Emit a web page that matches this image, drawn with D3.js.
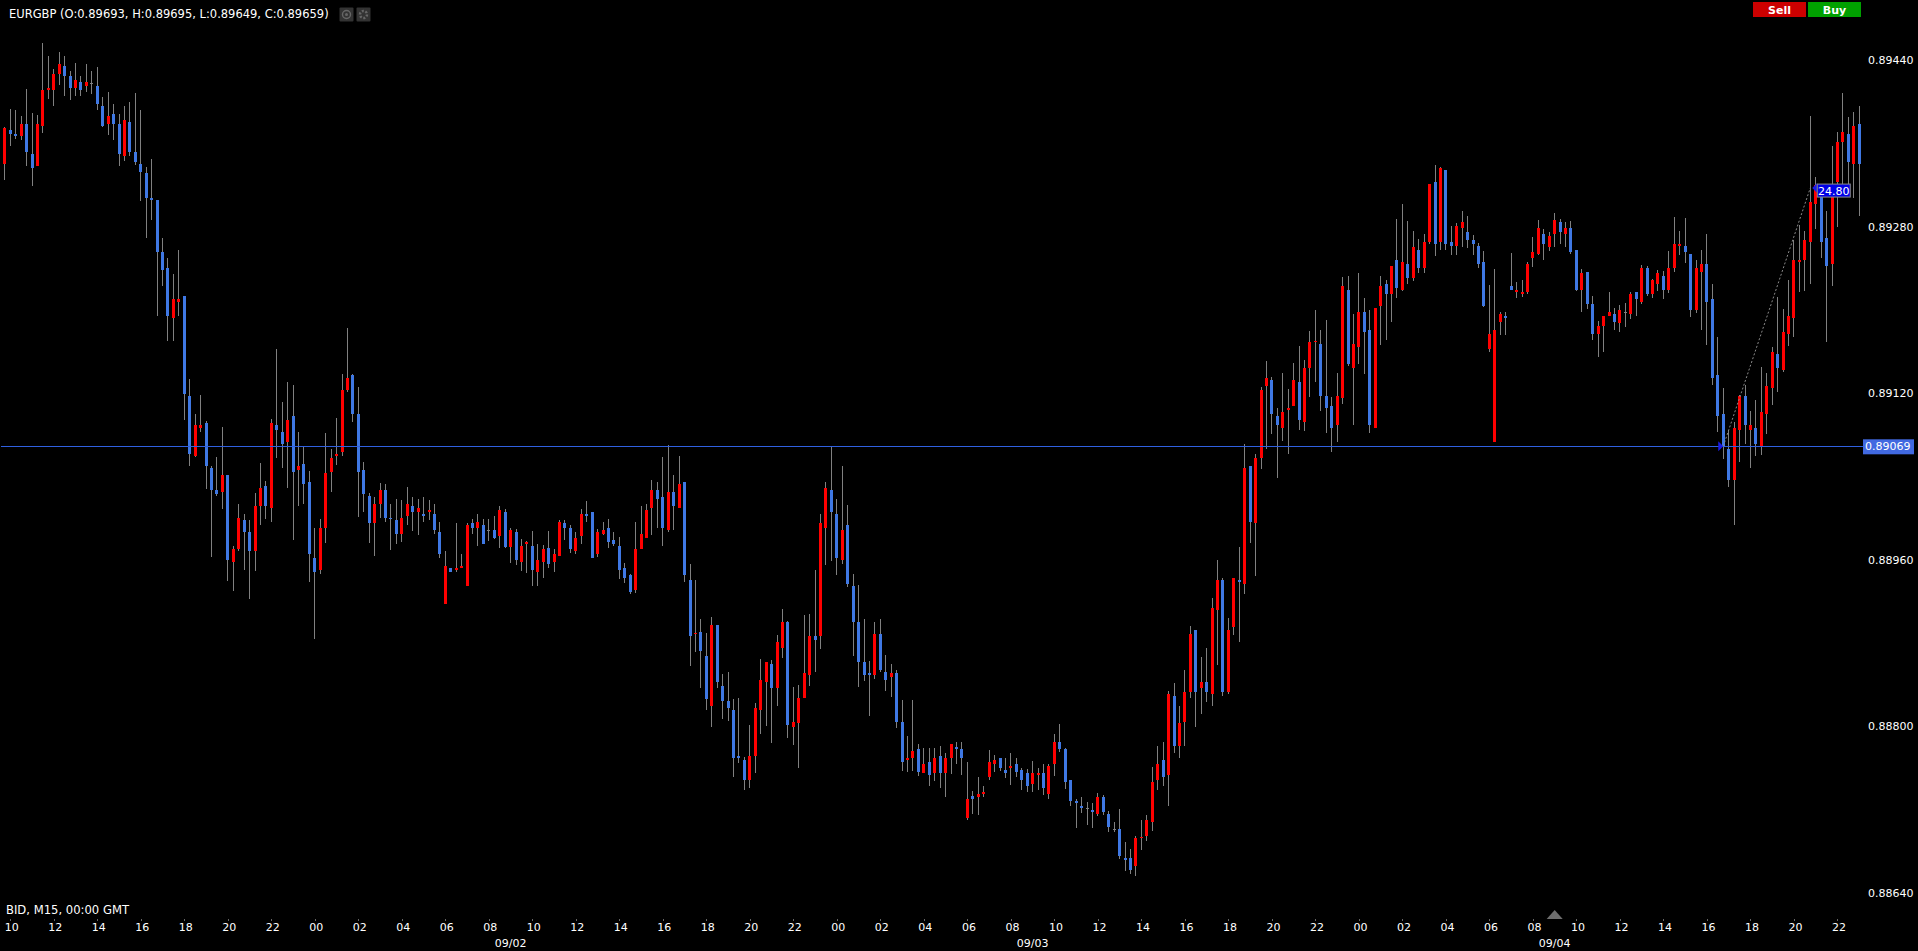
<!DOCTYPE html>
<html>
<head>
<meta charset="utf-8">
<title>EURGBP M15</title>
<script src="https://cdn.jsdelivr.net/npm/d3@7"></script>
<style>
  html, body { margin: 0; background: #000; overflow: hidden; }
  svg { display: block; }
  text { font-family: "DejaVu Sans", sans-serif; font-size: 11px; fill: #fff; }
</style>
</head>
<body>
<svg id="chart" width="1918" height="951"></svg>
<script>
// all prices are in points above 0.88000, so 1376 reads 0.89376
const priceBase = 88000;

const open = [
  1340,1373,1369,1367,1379,1350,1338,1377,1411,1411,
  1427,1434,1425,1413,1419,1415,1418,1415,1396,1379,
  1388,1379,1348,1380,1352,1340,1331,1307,1306,1256,
  1240,1192,1208,1213,1117,1060,1087,1091,1048,1027,
  1025,1041,958,970,998,987,968,1012,1031,1010,
  1089,1083,1073,1098,1046,1052,1035,962,950,991,
  1044,1060,1064,1123,1137,1100,1046,1021,995,1014,
  1027,1000,998,985,1002,1012,1006,1004,1006,1004,
  987,918,952,950,952,935,995,991,993,989,
  989,983,1006,972,987,958,975,973,948,958,
  971,958,964,995,991,968,983,1004,1006,966,
  985,991,979,973,952,945,931,970,981,1010,
  1027,1020,989,1025,1010,1035,941,889,891,868,
  820,897,839,824,816,772,768,749,772,816,
  843,860,837,875,900,799,803,827,849,887,
  887,991,1027,1004,960,993,935,900,862,851,
  849,889,852,847,851,804,768,770,778,755,
  766,755,772,755,770,780,778,712,733,732,
  735,751,764,770,758,760,764,758,755,745,
  753,755,735,764,785,778,749,728,724,722,
  720,716,732,716,701,701,674,674,666,693,
  695,708,749,768,753,829,781,804,833,893,
  837,843,831,912,941,833,895,941,937,1050,
  995,1058,1127,1133,1098,1087,1104,1108,1131,1092,
  1144,1169,1167,1117,1108,1089,1115,1219,1144,1164,
  1198,1181,1087,1204,1225,1215,1248,1219,1244,1231,
  1258,1240,1265,1323,1265,1334,1265,1261,1279,1275,
  1267,1261,1246,1162,1073,1188,1194,1223,1217,1215,
  1217,1250,1254,1273,1260,1273,1284,1273,1279,1258,
  1219,1236,1206,1177,1185,1194,1196,1187,1198,1196,
  1217,1208,1240,1215,1225,1233,1219,1240,1261,1261,
  1254,1200,1236,1244,1210,1137,1100,1066,1037,1085,
  1117,1085,1087,1069,1100,1125,1158,1142,1177,1192,
  1246,1248,1265,1302,1310,1269,1244,1323,1361,1369,
  1340,1379
];

const close = [
  1375,1369,1367,1379,1352,1336,1379,1411,1413,1427,
  1436,1425,1413,1421,1411,1419,1418,1398,1377,1386,
  1379,1350,1382,1352,1342,1332,1307,1306,1256,1238,
  1194,1210,1210,1119,1062,1089,1089,1050,1027,1023,
  1041,960,970,1000,987,968,1012,1029,1012,1091,
  1085,1071,1094,1044,1050,1033,966,948,991,1043,
  1058,1062,1123,1135,1100,1044,1023,995,1014,1027,
  1000,999,985,1000,1014,1006,1010,1002,1008,989,
  966,954,948,952,954,993,991,996,975,989,
  981,1008,972,989,960,973,977,950,960,970,
  956,966,996,991,970,981,1004,1002,962,987,
  989,977,975,950,943,929,970,985,1008,1027,
  1018,991,1025,1012,1033,945,887,890,872,826,
  897,843,824,818,770,770,749,772,818,845,
  862,837,881,900,801,804,827,851,887,883,
  995,1029,1006,962,989,937,900,862,849,849,
  889,854,845,851,804,766,770,776,756,764,
  753,770,755,770,783,778,770,730,730,735,
  737,766,768,760,755,762,756,749,743,755,
  755,741,762,785,778,747,728,726,722,722,
  718,732,718,703,701,676,672,662,693,694,
  710,747,764,751,831,781,803,833,889,833,
  843,833,914,941,833,893,943,939,1048,996,
  1058,1123,1135,1100,1089,1102,1106,1133,1094,1144,
  1169,1170,1117,1106,1087,1117,1223,1148,1167,1198,
  1179,1089,1202,1223,1215,1242,1221,1246,1231,1260,
  1240,1265,1321,1263,1336,1263,1261,1281,1284,1267,
  1263,1244,1204,1177,1181,1196,1192,1219,1219,1217,
  1244,1256,1279,1263,1271,1286,1275,1279,1256,1219,
  1235,1206,1177,1185,1194,1198,1188,1200,1198,1215,
  1210,1240,1215,1229,1235,1219,1240,1263,1263,1256,
  1200,1240,1244,1208,1135,1098,1069,1037,1087,1117,
  1089,1089,1071,1102,1127,1160,1144,1179,1194,1248,
  1248,1267,1304,1320,1265,1242,1310,1361,1371,1342,
  1377,1340
];

const high = [
  1376,1393,1392,1386,1412,1389,1387,1456,1444,1431,
  1448,1444,1429,1437,1425,1436,1429,1433,1404,1409,
  1398,1388,1396,1400,1408,1392,1337,1345,1306,1269,
  1250,1234,1258,1213,1134,1100,1118,1093,1050,1059,
  1088,1041,973,1014,1004,998,1024,1053,1036,1095,
  1162,1112,1131,1128,1083,1069,1045,991,999,1082,
  1066,1096,1138,1183,1138,1126,1054,1024,1020,1034,
  1033,1014,1018,1017,1030,1020,1018,1020,1017,1014,
  996,968,952,995,966,995,999,1004,999,999,
  1002,1012,1009,991,990,980,978,988,975,974,
  988,970,998,998,993,987,1009,1016,1006,990,
  996,999,987,982,957,946,996,1012,1014,1037,
  1035,1059,1070,1041,1060,1035,956,941,903,890,
  905,897,850,852,826,827,771,801,822,865,
  862,864,888,913,901,838,840,907,908,950,
  1004,1035,1068,1018,1050,1013,946,936,903,863,
  900,903,869,860,854,825,791,825,783,779,
  779,779,781,774,783,785,785,766,738,751,
  743,777,773,770,770,774,770,760,759,767,
  760,764,764,793,802,779,749,730,732,727,
  726,736,734,719,708,721,689,682,695,710,
  715,761,781,785,834,842,820,854,896,893,
  867,875,923,960,943,904,943,972,1071,1050,
  1062,1126,1151,1136,1106,1139,1124,1149,1165,1152,
  1180,1200,1181,1190,1116,1139,1232,1233,1196,1235,
  1211,1200,1202,1233,1229,1242,1287,1302,1285,1276,
  1268,1273,1321,1339,1337,1334,1281,1283,1295,1290,
  1272,1264,1257,1224,1239,1198,1198,1255,1227,1229,
  1246,1270,1286,1278,1275,1293,1287,1284,1285,1258,
  1239,1236,1213,1189,1194,1217,1202,1205,1207,1217,
  1217,1243,1242,1230,1238,1237,1257,1289,1276,1288,
  1254,1248,1258,1273,1225,1174,1125,1085,1092,1118,
  1128,1103,1113,1145,1139,1164,1212,1201,1229,1267,
  1282,1276,1386,1328,1315,1295,1357,1371,1408,1385,
  1390,1396
];

const low = [
  1325,1357,1364,1363,1338,1319,1338,1370,1403,1396,
  1416,1405,1402,1405,1405,1409,1407,1392,1376,1368,
  1363,1338,1343,1348,1339,1305,1269,1286,1194,1223,
  1170,1170,1194,1094,1050,1059,1083,1028,963,1021,
  1009,940,930,968,950,922,949,993,999,996,
  1058,1048,1029,979,1012,1014,939,884,946,976,
  1025,1051,1060,1121,1092,1001,1006,976,964,1000,
  996,969,975,977,993,988,984,996,998,985,
  962,918,948,948,952,935,985,973,975,978,
  980,971,971,957,955,949,947,935,935,943,
  952,948,964,979,967,966,975,996,962,963,
  984,971,973,942,938,927,928,970,981,984,
  991,973,987,989,1010,939,858,871,837,816,
  799,837,807,805,751,765,739,741,755,793,
  800,784,820,866,789,782,760,827,839,852,
  874,955,959,945,956,934,868,838,844,810,
  846,852,834,828,798,757,756,757,752,755,
  743,748,741,732,754,764,753,710,716,715,
  732,749,756,757,750,744,751,739,737,737,
  739,734,730,752,775,740,724,702,717,705,
  702,714,715,699,699,673,661,658,656,681,
  690,700,739,743,724,774,770,781,827,799,
  812,823,820,859,829,831,888,881,927,976,
  944,1047,1066,1081,1039,1074,1062,1108,1085,1084,
  1116,1131,1103,1082,1064,1073,1110,1146,1089,1148,
  1138,1082,1087,1166,1171,1188,1211,1218,1225,1228,
  1235,1235,1263,1252,1258,1258,1253,1253,1260,1259,
  1253,1240,1203,1160,1073,1176,1176,1219,1211,1212,
  1215,1241,1253,1248,1257,1260,1263,1260,1254,1218,
  1198,1201,1171,1155,1160,1194,1181,1179,1184,1191,
  1194,1206,1213,1211,1218,1210,1216,1236,1253,1245,
  1193,1197,1181,1166,1128,1083,1057,1030,993,1054,
  1071,1048,1060,1061,1081,1109,1121,1140,1165,1174,
  1217,1218,1225,1278,1250,1169,1223,1280,1321,1321,
  1307,1290
];

// price axis
const priceTicks = [640, 800, 960, 1120, 1280, 1440];
const currentPrice = 1069;

// time axis: candle index -> hour label, one tick every 2 hours
const firstTickIndex = 1;
const firstTickHour = 10;
const lastTickIndex = 337;
const dateLabels = ['09/02', '09/03', '09/04'];
const dateIndexes = [93, 189, 285];

// measure tool drawn on the chart
const measureIndexes = [316, 332];
const measurePrices = [1069, 1317];
const measureLabel = '24.80';

const headerText = 'EURGBP (O:0.89693, H:0.89695, L:0.89649, C:0.89659)';
const footerText = 'BID, M15, 00:00 GMT';

const RED = '#ff0000', BLUE = '#3f78e4', WICK = '#808080';

const svg = d3.select('#chart');
const fmtPrice = v => ((priceBase + v) / 100000).toFixed(5);

const x = d3.scaleLinear().domain([0, open.length - 1]).range([4.86, 1859.2]);
const y = d3.scaleLinear().domain([640, 1440]).range([893, 60]);
const px = i => Math.floor(x(i));
const py = v => Math.round(y(v));

svg.append('rect').attr('width', 1918).attr('height', 951).attr('fill', '#000');

// ---------- candles ----------
const idx = d3.range(open.length);
const candles = svg.append('g').attr('shape-rendering', 'crispEdges');

candles.selectAll('rect.wick')
  .data(idx)
  .join('rect')
    .attr('class', 'wick')
    .attr('x', i => px(i))
    .attr('y', i => py(high[i]))
    .attr('width', 1)
    .attr('height', i => Math.max(1, py(low[i]) - py(high[i])))
    .attr('fill', WICK);

candles.selectAll('rect.body')
  .data(idx)
  .join('rect')
    .attr('class', 'body')
    .attr('x', i => px(i) - 1)
    .attr('y', i => py(Math.max(open[i], close[i])))
    .attr('width', 3)
    .attr('height', i => Math.max(1, Math.abs(py(open[i]) - py(close[i]))))
    .attr('fill', i => close[i] > open[i] ? RED : close[i] < open[i] ? BLUE : WICK);

// ---------- axes ----------
const yAxis = svg.append('g')
  .attr('transform', 'translate(1868,0)')
  .call(d3.axisRight(y).tickValues(priceTicks).tickSize(0).tickPadding(0).tickFormat(fmtPrice));
yAxis.select('.domain').remove();

const xTicks = d3.range(firstTickIndex, lastTickIndex + 1, 8);
const xAxis = svg.append('g')
  .attr('transform', 'translate(0,919)')
  .call(d3.axisBottom(x)
    .tickValues(xTicks)
    .tickSize(2)
    .tickPadding(2)
    .tickFormat(i => String((firstTickHour + (i - firstTickIndex) / 4) % 24).padStart(2, '0')));
xAxis.select('.domain').remove();
xAxis.selectAll('line').attr('stroke', '#666').attr('shape-rendering', 'crispEdges');
xAxis.selectAll('text').attr('dx', 1);

svg.append('g').selectAll('text')
  .data(dateLabels)
  .join('text')
    .attr('x', (d, k) => x(dateIndexes[k]))
    .attr('y', 947)
    .attr('text-anchor', 'middle')
    .text(d => d);

// scroll marker above the last date
svg.append('path')
  .attr('transform', `translate(${x(dateIndexes[2])},919)`)
  .attr('d', 'M-8,0L0,-9L8,0Z')
  .attr('fill', '#6e6e6e');

// ---------- current price line ----------
svg.append('rect')
  .attr('x', 1).attr('y', Math.floor(y(currentPrice)))
  .attr('width', 1862).attr('height', 1)
  .attr('fill', '#3060e0')
  .attr('shape-rendering', 'crispEdges');
svg.append('rect')
  .attr('x', 1863).attr('y', y(currentPrice) - 7)
  .attr('width', 51).attr('height', 15)
  .attr('fill', '#4169e1');
svg.append('text')
  .attr('x', 1865).attr('y', y(currentPrice) + 4)
  .text(fmtPrice(currentPrice));

// ---------- measure tool ----------
const mx = measureIndexes.map(x), my = measurePrices.map(y);
svg.append('line')
  .attr('x1', mx[0]).attr('y1', my[0]).attr('x2', mx[1]).attr('y2', my[1])
  .attr('stroke', '#8a8a8a').attr('stroke-dasharray', '2,2');
svg.append('path')
  .attr('transform', `translate(${mx[0]},${my[0]})`)
  .attr('d', 'M-5,-5L0,0L-5,5Z')
  .attr('fill', '#1a1ae6');
svg.append('path')
  .attr('transform', `translate(${mx[1] + 2},${my[1]})`)
  .attr('d', 'M5,-5L0,0L5,5Z')
  .attr('fill', '#1a1ae6');
svg.append('rect')
  .attr('x', mx[1] + 7).attr('y', my[1] - 4)
  .attr('width', 33).attr('height', 13)
  .attr('fill', '#0000e6').attr('stroke', '#8a8a8a');
svg.append('text')
  .attr('x', mx[1] + 23.5).attr('y', my[1] + 7)
  .attr('text-anchor', 'middle')
  .text(measureLabel);

// ---------- header, footer, buttons ----------
svg.append('text').attr('x', 9).attr('y', 18).style('font-size', '11.5px').text(headerText);
svg.append('text').attr('x', 6).attr('y', 914).style('font-size', '11.6px').text(footerText);

[339.5, 356.5].forEach((bx, k) => {
  svg.append('rect').attr('x', bx).attr('y', 7.5).attr('width', 14).attr('height', 14).attr('rx', 1).attr('fill', '#333');
  svg.append('circle')
    .attr('cx', bx + 7).attr('cy', 14.5).attr('r', k ? 3.5 : 4)
    .attr('fill', 'none')
    .attr('stroke', '#666')
    .attr('stroke-width', k ? 2.5 : 1.4)
    .attr('stroke-dasharray', k ? '2,1.6' : null);
  if (!k) svg.append('circle').attr('cx', bx + 7).attr('cy', 14.5).attr('r', 1.5).attr('fill', '#666');
});

[['Sell', 1753, '#cc0000'], ['Buy', 1808, '#00a000']].forEach(([label, bx, fill]) => {
  svg.append('rect').attr('x', bx).attr('y', 2).attr('width', 53).attr('height', 15).attr('fill', fill);
  svg.append('text')
    .attr('x', bx + 26.5).attr('y', 14)
    .attr('text-anchor', 'middle')
    .style('font-weight', 'bold')
    .text(label);
});
</script>
</body>
</html>
